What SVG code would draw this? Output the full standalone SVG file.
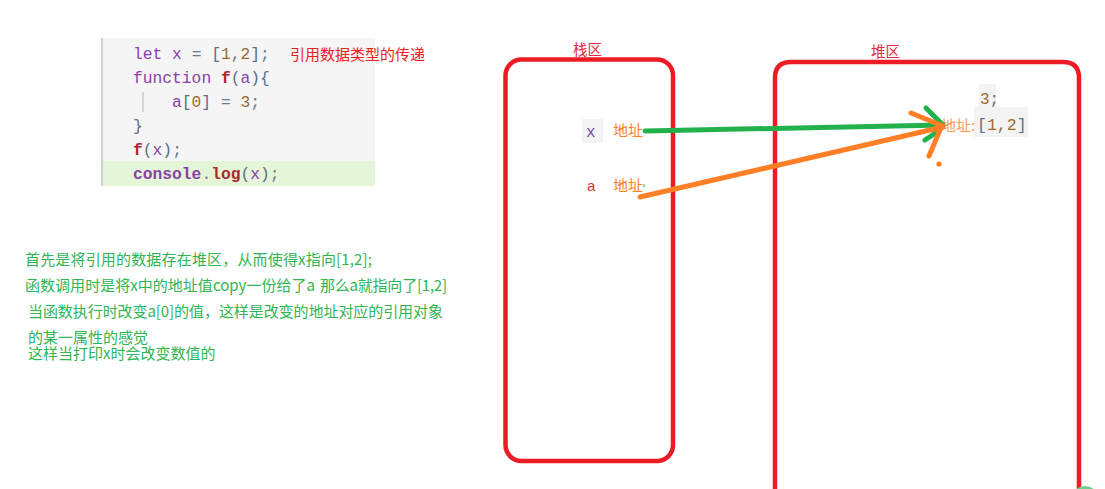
<svg xmlns="http://www.w3.org/2000/svg" width="1105" height="489" viewBox="0 0 1105 489">
  <style>
    .code { font-family: "Liberation Mono", "DejaVu Sans Mono", monospace; font-size: 16.3px; fill: #6b7b8c; }
    .kw { fill: #8a3fa8; }
    .fn { fill: #a8282e; font-weight: bold; }
    .num { fill: #a0692c; }
    .pun { fill: #5b6f86; }
    .cjk { font-family: "Noto Sans CJK SC", "Noto Sans", sans-serif; }
    .note { font-size: 15px; fill: #2fb552; }
    .region { fill: none; stroke: #ed1c24; stroke-width: 4.5; }
    .region-label { font-size: 14.5px; fill: #e8283e; }
    .addr { font-size: 15px; fill: #ff7f27; }
    .wire { fill: none; stroke-width: 5; stroke-linecap: round; }
    .green { stroke: #22b14c; }
    .orange { stroke: #ff7f27; }
  </style>

  <rect width="1105" height="489" fill="#ffffff"/>

  <!-- code listing -->
  <g id="code-block">
    <rect x="103" y="38" width="272" height="148" fill="#f5f5f5"/>
    <rect x="103" y="161" width="272" height="25" fill="#e4f5d8"/>
    <rect x="101" y="38" width="2" height="148" fill="#cfcfcf"/>
    <rect x="142.5" y="92" width="1" height="20" fill="#b5b5b5"/>
    <text class="code" xml:space="preserve">
      <tspan x="133" y="59"><tspan class="kw">let</tspan> <tspan class="kw">x</tspan> = <tspan class="pun">[</tspan><tspan class="num">1</tspan>,<tspan class="num">2</tspan><tspan class="pun">]</tspan>;</tspan>
      <tspan x="133" y="83"><tspan class="kw">function</tspan> <tspan class="fn">f</tspan><tspan class="pun">(</tspan><tspan class="kw">a</tspan><tspan class="pun">){</tspan></tspan>
      <tspan x="172" y="107"><tspan class="kw">a</tspan><tspan class="pun">[</tspan><tspan class="num">0</tspan><tspan class="pun">]</tspan> = <tspan class="num">3</tspan>;</tspan>
      <tspan x="133" y="131"><tspan class="pun">}</tspan></tspan>
      <tspan x="133" y="155"><tspan class="fn">f</tspan><tspan class="pun">(</tspan><tspan class="kw">x</tspan><tspan class="pun">)</tspan>;</tspan>
      <tspan x="133" y="179"><tspan class="kw" font-weight="bold">console</tspan>.<tspan class="fn">log</tspan><tspan class="pun">(</tspan><tspan class="kw">x</tspan><tspan class="pun">)</tspan>;</tspan>
    </text>
  </g>

  <g id="title">
    <text class="cjk" x="290" y="60" font-size="15" fill="#ef2020">引用数据类型的传递</text>
  </g>

  <!-- explanation -->
  <g id="notes" class="cjk note">
    <text x="25" y="265" textLength="347" lengthAdjust="spacing">首先是将引用的数据存在堆区，从而使得x指向[1,2];</text>
    <text x="25" y="291" textLength="290" lengthAdjust="spacing">函数调用时是将x中的地址值copy一份给了a</text>
    <text x="320" y="291" textLength="127" lengthAdjust="spacing">那么a就指向了[1,2]</text>
    <text x="28" y="317" textLength="415" lengthAdjust="spacing">当函数执行时改变a[0]的值，这样是改变的地址对应的引用对象</text>
    <text x="28" y="343">的某一属性的感觉</text>
    <text x="28" y="359">这样当打印x时会改变数值的</text>
  </g>

  <!-- stack region -->
  <g id="stack">
    <rect class="region" x="505.5" y="59.5" width="167.5" height="401.5" rx="16"/>
    <text class="cjk region-label" x="573" y="55">栈区</text>
    <rect x="582" y="119" width="21" height="24" fill="#f3f3f3"/>
    <text x="586" y="137" font-family="Liberation Mono, monospace" font-size="16" fill="#7a4aa0">x</text>
    <text class="cjk addr" x="613" y="136">地址</text>
    <text x="587" y="191" font-family="Liberation Sans, sans-serif" font-size="15" fill="#e0302c">a</text>
    <text class="cjk addr" x="613" y="191">地址</text>
    <rect x="643.5" y="184" width="1" height="3" fill="#22b14c"/>
  </g>

  <!-- heap region -->
  <g id="heap">
    <path class="region" d="M775 495 V78 Q775 62 791 62 H1063 Q1079 62 1079 78 V495"/>
    <text class="cjk region-label" x="871" y="57">堆区</text>
    <rect x="979" y="84" width="17" height="23" fill="#f3f3f3"/>
    <text x="980" y="104" font-family="Liberation Mono, monospace" font-size="16" fill="#a0692c">3<tspan fill="#5b6f86">;</tspan></text>
    <rect x="974" y="107" width="54" height="30" fill="#f3f3f3"/>
    <text x="977" y="130" font-family="Liberation Mono, monospace" font-size="16.5" fill="#a0692c" xml:space="preserve"><tspan fill="#5b6f86">[</tspan>1,2<tspan fill="#5b6f86">]</tspan></text>
    <text class="cjk" x="941" y="131" font-size="15" fill="#fb9a5a">地址:</text>
  </g>

  <!-- pointers from stack slots to the heap array -->
  <g id="connectors">
    <line class="wire green" x1="645" y1="131" x2="943" y2="125"/>
    <line class="wire green" x1="926" y1="108" x2="943" y2="125"/>
    <line class="wire green" x1="925" y1="140" x2="937" y2="132"/>
    <line class="wire orange" x1="640" y1="197" x2="943" y2="127"/>
    <line class="wire orange" x1="911" y1="113" x2="943" y2="126"/>
    <line class="wire orange" x1="929" y1="156" x2="940" y2="130"/>
    <circle cx="939" cy="164" r="2.6" fill="#ff7f27"/>
  </g>

  <circle cx="1085" cy="500" r="14" fill="#6ccf8c"/>
</svg>
